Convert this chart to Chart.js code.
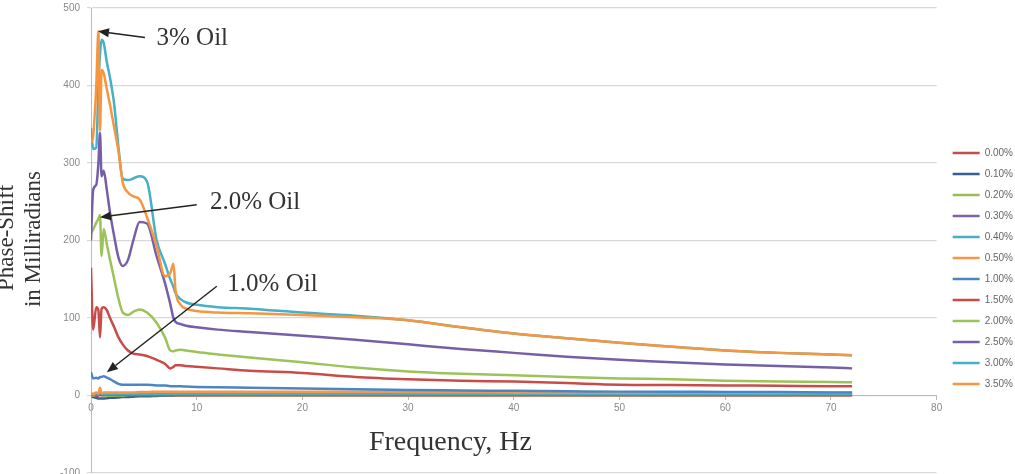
<!DOCTYPE html>
<html>
<head>
<meta charset="utf-8">
<script src="https://cdn.jsdelivr.net/npm/chart.js@4.4.1/dist/chart.umd.min.js"></script>
<style>
  html, body { margin: 0; padding: 0; background: #fff; }
  canvas { display: block; }
</style>
</head>
<body>
<canvas id="phaseChart" width="1015" height="474"></canvas>
<script>
// frequency points (Hz) shared by every series
const freq = [0, 0.2, 0.5, 0.7, 0.85, 1, 1.2, 1.5, 1.8, 2.2, 2.6, 3, 3.5, 4, 4.6, 5.3, 6.2, 7, 7.5, 7.8, 8, 8.5, 9, 10, 12, 15, 20, 25, 30, 35, 40, 45, 50, 55, 60, 65, 70, 72];

// phase shift in milliradians, one array per oil content
const oil000 = [1, 0, -1, 0, 1, 0, 0, 0.5, 0, 0, 0, 0, 0, 0, 0, 0, 0, 0, 0, 0, 0, 0, 0, 0, 0, 0, 0, 0, 0, 0, 0, 0, 0, 0, 0, 0, 0, 0];
const oil010 = [0, -2, -3, -4, -4, -4, -4, -3.5, -3, -3, -2.5, -2, -2, -1.5, -1, -1, -0.5, 0, 0, 0, 0.5, 0.5, 0.5, 1, 1, 1.5, 2, 2, 2, 2, 2, 2, 2, 2, 2, 2, 2, 2];
const oil020 = [0, 0, 1, 2, 1, 0, 0, 0, 0, 0, 0, 0, 0.5, 0.5, 0.5, 0.5, 0.5, 0.5, 0.5, 0.5, 0.5, 0.5, 0.5, 0.5, 0.5, 0.5, 0.5, 0.5, 0.5, 0.5, 0.5, 0.5, 0.5, 0.5, 0.5, 0.5, 0.5, 0.5];
const oil030 = [1, 2, 1, 3, 1, 1, 1, 1, 1, 1, 1, 1, 1, 1, 1, 1, 1, 1, 1, 1, 1, 1, 1, 1, 1, 1, 1, 1, 1, 1, 1, 1, 1, 1, 1, 1, 1, 1];
const oil040 = [2, 1, 3, 2, 5, 2, 2, 2, 2, 2, 2, 2, 2, 2, 2, 2, 2, 2, 2, 2, 2, 2, 2, 2, 2, 2, 2, 2, 2, 2, 2, 2, 2, 2, 2, 2, 2, 2];
const oil050 = [3, 2, 4, 3, 10, 3, 4, 4, 4, 4, 4, 4, 4, 4, 4.5, 4.5, 5, 5, 5, 5, 5, 5, 5, 5, 5, 5, 5, 5, 4.5, 4.5, 4, 4, 4, 4, 3.5, 3.5, 3.5, 3.5];
const oil100 = [30, 22, 23, 22, 24, 24, 25, 23, 21, 18, 15, 14, 14, 14, 14, 14, 13, 13, 12, 12, 12, 12, 11.5, 11, 10.5, 10, 9, 8, 7, 6.5, 6, 5.5, 5, 5, 4.5, 4.5, 4, 4];
const oil150 = [165, 85, 114, 110, 75, 112, 114, 110, 100, 88, 75, 66, 58, 54, 53, 51, 46, 41, 35, 37, 39, 39, 38, 37, 35, 32, 29, 24, 21, 19, 18, 16, 14, 13.5, 13, 12.5, 12, 12];
const oil200 = [210, 214, 223, 228, 233, 180, 215, 195, 175, 150, 125, 107, 104, 108, 111, 107, 94, 75, 58, 57, 58, 59, 58, 56, 53, 49, 43, 36, 31, 28, 26, 24, 22, 21, 19, 18, 17.5, 17];
const oil250 = [200, 265, 272, 300, 339, 283, 290, 265, 236, 205, 178, 167, 175, 200, 224, 222, 180, 145, 118, 100, 95, 92, 90, 88, 85, 82, 77, 72, 66, 60, 55, 50, 46, 43, 40, 38, 36, 35];
const oil300 = [345, 318, 320, 400, 440, 459, 455, 430, 410, 375, 320, 280, 278, 280, 283, 276, 201, 170, 150, 140, 132, 124, 120, 117, 114, 112, 107, 103, 97, 88, 80, 74, 68, 63, 58, 55, 53, 52];
const oil350 = [326, 335, 400, 470, 342, 420, 416, 395, 375, 345, 315, 275, 262, 257, 253, 230, 193, 154, 158, 170, 135, 117, 112, 109, 107, 106, 104, 101, 97, 88, 80, 74, 68, 63, 58, 55, 53, 52];

const seriesNames = ['0.00%', '0.10%', '0.20%', '0.30%', '0.40%', '0.50%', '1.00%', '1.50%', '2.00%', '2.50%', '3.00%', '3.50%'];
const seriesValues = [oil000, oil010, oil020, oil030, oil040, oil050, oil100, oil150, oil200, oil250, oil300, oil350];
const seriesColors = ['#C0504D', '#376092', '#9BBB59', '#8064A2', '#4BACC6', '#F79646', '#4A86C5', '#C94C4A', '#9CC35A', '#7560A8', '#45B0C8', '#F7963E'];

const xTicks = [0, 10, 20, 30, 40, 50, 60, 70, 80];
const yTicks = [-100, 0, 100, 200, 300, 400, 500];

// callouts: text anchor and arrow tip, both in data units
const callouts = [
  { text: '3% Oil',   textAt: [6.2, 461],  tail: [5.1, 462],  tip: [0.66, 470] },
  { text: '2.0% Oil', textAt: [11.25, 249], tail: [10.0, 246], tip: [0.85, 230] },
  { text: '1.0% Oil', textAt: [12.9, 143], tail: [11.9, 141], tip: [1.5, 30] }
];

const datasets = seriesNames.map((name, i) => ({
  label: name,
  data: freq.map((f, k) => ({ x: f, y: seriesValues[i][k] })),
  borderColor: seriesColors[i],
  backgroundColor: seriesColors[i],
  borderWidth: 2.5,
  pointRadius: 0,
  showLine: true,
  cubicInterpolationMode: 'monotone',
  order: -i   // later series on top, as in the original
}));

const textPlugin = {
  id: 'textPlugin',
  afterDraw(chart) {
    const { ctx, scales: { x, y } } = chart;
    ctx.save();
    ctx.fillStyle = '#333';
    ctx.strokeStyle = '#222';

    // axis titles
    ctx.font = '28px "Liberation Serif"';
    ctx.textAlign = 'center';
    ctx.textBaseline = 'middle';
    ctx.fillText('Frequency, Hz', x.getPixelForValue(34), 443);

    ctx.font = '23px "Liberation Serif"';
    ctx.save();
    ctx.translate(7, 238);
    ctx.rotate(-Math.PI / 2);
    ctx.fillText('Phase-Shift', 0, 0);
    ctx.restore();
    ctx.save();
    ctx.translate(34, 239);
    ctx.rotate(-Math.PI / 2);
    ctx.fillText('in Milliradians', 0, 0);
    ctx.restore();

    // callouts with arrows
    ctx.font = '25px "Liberation Serif"';
    ctx.textAlign = 'left';
    callouts.forEach(c => {
      const tx = x.getPixelForValue(c.textAt[0]), ty = y.getPixelForValue(c.textAt[1]);
      ctx.fillText(c.text, tx, ty);
      const x0 = x.getPixelForValue(c.tail[0]), y0 = y.getPixelForValue(c.tail[1]);
      const x1 = x.getPixelForValue(c.tip[0]), y1 = y.getPixelForValue(c.tip[1]);
      const a = Math.atan2(y1 - y0, x1 - x0);
      const len = 11, half = 4.5;
      const bx = x1 - len * Math.cos(a), by = y1 - len * Math.sin(a);
      ctx.lineWidth = 1.5;
      ctx.beginPath();
      ctx.moveTo(x0, y0);
      ctx.lineTo(bx, by);
      ctx.stroke();
      ctx.beginPath();
      ctx.moveTo(x1, y1);
      ctx.lineTo(bx + half * Math.sin(a), by - half * Math.cos(a));
      ctx.lineTo(bx - half * Math.sin(a), by + half * Math.cos(a));
      ctx.closePath();
      ctx.fillStyle = '#222';
      ctx.fill();
      ctx.fillStyle = '#333';
    });
    ctx.restore();
  }
};

new Chart(document.getElementById('phaseChart'), {
  type: 'scatter',
  data: { datasets },
  options: {
    responsive: false,
    animation: false,
    devicePixelRatio: 1,
    layout: { padding: { top: 8, bottom: 1, left: 0, right: -8 } },
    plugins: {
      tooltip: { enabled: false },
      legend: {
        position: 'right',
        title: { display: true, text: ' ', font: { size: 10 }, padding: { top: 44, bottom: 0 } },
        labels: {
          sort: (a, b) => a.datasetIndex - b.datasetIndex,
          usePointStyle: true,
          pointStyle: 'line',
          pointStyleWidth: 27,
          padding: 11,
          color: '#666',
          font: { family: '"Liberation Sans"', size: 10 }
        }
      }
    },
    scales: {
      x: {
        type: 'linear',
        position: { y: 0 },
        min: 0,
        max: 80,
        afterBuildTicks: s => { s.ticks = xTicks.map(v => ({ value: v })); },
        afterFit: s => { s.height = 0; s.paddingTop = 0; s.paddingBottom = 0; },
        grid: { display: true, drawOnChartArea: false, drawTicks: true, tickLength: 4, color: '#BBB' },
        border: { display: true, color: '#BBB' },
        ticks: { color: '#888', padding: 3, maxRotation: 0, font: { family: '"Liberation Sans"', size: 10 } }
      },
      y: {
        type: 'linear',
        position: 'left',
        min: -100,
        max: 500,
        afterBuildTicks: s => { s.ticks = yTicks.map(v => ({ value: v })); },
        afterFit: s => { s.width = 91; s.paddingTop = 0; s.paddingBottom = 0; },
        grid: { color: '#D9D9D9', tickLength: 4, lineWidth: 1.2 },
        border: { display: true, color: '#BBB' },
        ticks: { color: '#888', padding: 7, font: { family: '"Liberation Sans"', size: 10 } }
      },
      y2: {
        type: 'linear',
        position: 'right',
        display: true,
        afterFit: s => { s.width = 5; s.paddingTop = 0; s.paddingBottom = 0; },
        grid: { display: false },
        border: { display: false },
        ticks: { display: false }
      }
    }
  },
  plugins: [textPlugin]
});
</script>
</body>
</html>
